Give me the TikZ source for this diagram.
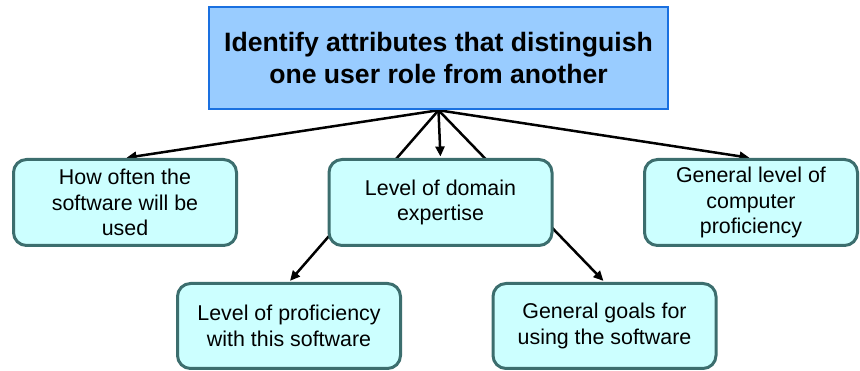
\documentclass[tikz,border=0pt]{standalone}
\usepackage{fontspec}
\setmainfont{Liberation Sans}
\usetikzlibrary{arrows.meta,backgrounds}
\definecolor{headfill}{HTML}{99CCFF}
\definecolor{headline}{HTML}{1A70E0}
\definecolor{boxfill}{HTML}{CCFFFF}
\definecolor{boxline}{HTML}{3C6E6E}
\begin{document}
\begin{tikzpicture}[x=1pt,y=-1pt,
  head/.style={draw=headline, fill=headfill, line width=2.5pt,
    minimum width=459pt, minimum height=102pt, inner sep=0pt,
    align=center, font=\fontsize{26.6}{31.5}\selectfont\bfseries},
  attr/.style={draw=boxline, fill=boxfill, line width=3pt, rounded corners=13pt,
    minimum width=223pt, minimum height=86pt, inner sep=0pt,
    align=center, font=\fontsize{21.4}{25.5}\selectfont},
  link/.style={line width=2.5pt, shorten >=1.5pt,
    -{Triangle[length=10pt,width=9pt]}}]
\useasboundingbox (0,0) rectangle (860,371);

% root question
\node[head] (root) at (438.5,58)
  {Identify attributes that distinguish\\one user role from another};

% attributes of a user role
\node[attr] (often)  at (125,202.5)   {How often the\\software will be\\used};
\node[attr] (domain) at (440.5,202.5) {Level of domain\\expertise};
\node[attr, minimum width=213pt] (comp) at (751,202.5)
  {General level of\\computer\\proficiency};
\node[attr, minimum height=85pt] (prof)  at (289,326)   {Level of proficiency\\with this software};
\node[attr, minimum height=85pt] (goals) at (604.5,326) {General goals for\\using the software};

% connectors run behind the boxes
\begin{scope}[on background layer]
  \draw[link] (root.south) -- (often.north);
  \draw[link] (root.south) -- (domain.north);
  \draw[link] (root.south) -- (comp.north);
  \draw[link] (root.south) -- (prof.north);
  \draw[link] (root.south) -- (goals.north);
\end{scope}
\end{tikzpicture}
\end{document}
